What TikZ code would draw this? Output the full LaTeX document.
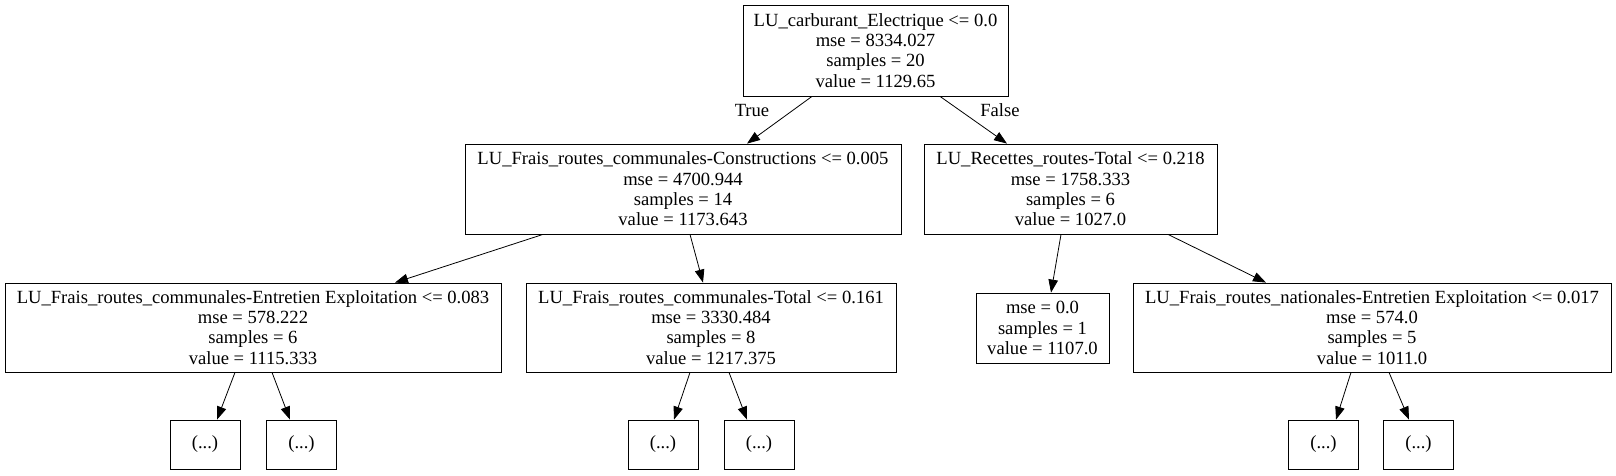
\documentclass[tikz,border=0pt]{standalone}
\usepackage{fontspec}
\setmainfont{Liberation Serif}
\usetikzlibrary{arrows.meta}
\tikzset{
  box/.style={draw, line width=0.8pt, inner sep=0pt, align=center, font=\fontsize{18.6}{20.3}\selectfont},
  edge/.style={line width=0.8pt, -{Triangle[length=13pt,width=9.5pt]}},
  lbl/.style={inner sep=0pt, font=\fontsize{18.6}{20.3}\selectfont}
}
\begin{document}
\begin{tikzpicture}[x=1pt,y=-1pt]
\useasboundingbox (0,0) rectangle (1616,475);
\node[box, minimum width=265pt, minimum height=91pt] (root) at (875.5,50.5) {LU\_carburant\_Electrique <= 0.0\\mse = 8334.027\\samples = 20\\value = 1129.65};
\node[box, minimum width=436pt, minimum height=90pt] (A) at (683,189) {LU\_Frais\_routes\_communales-Constructions <= 0.005\\mse = 4700.944\\samples = 14\\value = 1173.643};
\node[box, minimum width=293pt, minimum height=90pt] (B) at (1070.5,189) {LU\_Recettes\_routes-Total <= 0.218\\mse = 1758.333\\samples = 6\\value = 1027.0};
\node[box, minimum width=496pt, minimum height=89pt] (C) at (253,327.5) {LU\_Frais\_routes\_communales-Entretien Exploitation <= 0.083\\mse = 578.222\\samples = 6\\value = 1115.333};
\node[box, minimum width=370pt, minimum height=89pt] (D) at (711,327.5) {LU\_Frais\_routes\_communales-Total <= 0.161\\mse = 3330.484\\samples = 8\\value = 1217.375};
\node[box, minimum width=133pt, minimum height=70pt] (E) at (1042.5,328) {mse = 0.0\\samples = 1\\value = 1107.0};
\node[box, minimum width=478pt, minimum height=89pt] (F) at (1372,327.5) {LU\_Frais\_routes\_nationales-Entretien Exploitation <= 0.017\\mse = 574.0\\samples = 5\\value = 1011.0};
\node[box, minimum width=70pt, minimum height=49pt] (l1) at (205,444.5) {(...)};
\node[box, minimum width=70pt, minimum height=49pt] (l2) at (301.5,444.5) {(...)};
\node[box, minimum width=70pt, minimum height=49pt] (l3) at (663,444.5) {(...)};
\node[box, minimum width=70pt, minimum height=49pt] (l4) at (759,444.5) {(...)};
\node[box, minimum width=70pt, minimum height=49pt] (l5) at (1323.5,444.5) {(...)};
\node[box, minimum width=70pt, minimum height=49pt] (l6) at (1418.5,444.5) {(...)};
\draw[edge] ([xshift=-63.5pt]root.south) -- ([xshift=64pt]A.north);
\draw[edge] ([xshift=64.5pt]root.south) -- ([xshift=-63.5pt]B.north);
\node[lbl] (t) at (752,110) {True};
\node[lbl] (f) at (1000,110) {False};
\draw[edge] ([xshift=-140pt]A.south) -- ([xshift=142pt]C.north);
\draw[edge] ([xshift=7pt]A.south) -- ([xshift=-8pt]D.north);
\draw[edge] ([xshift=-9.5pt]B.south) -- ([xshift=8.5pt]E.north);
\draw[edge] ([xshift=97.5pt]B.south) -- ([xshift=-106pt]F.north);
\draw[edge] ([xshift=-18pt]C.south) -- ([xshift=12pt]l1.north);
\draw[edge] ([xshift=19pt]C.south) -- ([xshift=-11.5pt]l2.north);
\draw[edge] ([xshift=-21pt]D.south) -- ([xshift=11pt]l3.north);
\draw[edge] ([xshift=18pt]D.south) -- ([xshift=-12pt]l4.north);
\draw[edge] ([xshift=-21pt]F.south) -- ([xshift=12.5pt]l5.north);
\draw[edge] ([xshift=17pt]F.south) -- ([xshift=-9.5pt]l6.north);
\end{tikzpicture}
\end{document}
